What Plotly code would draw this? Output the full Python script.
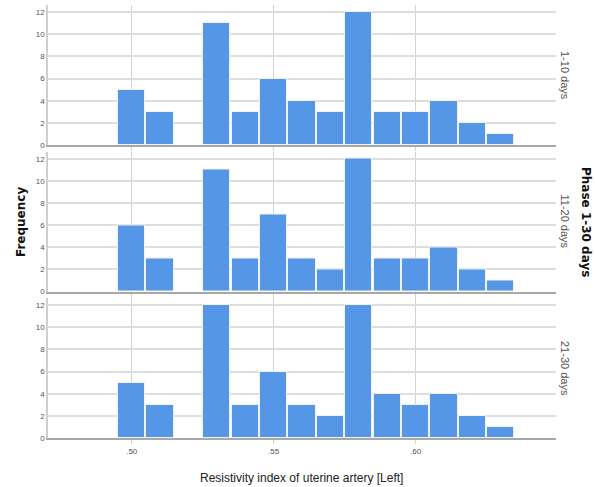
import plotly.graph_objects as go
from plotly.subplots import make_subplots

# Bin centres of the resistivity index histogram (bin width 0.01)
bin_centers = [0.50, 0.51, 0.53, 0.54, 0.55, 0.56, 0.57, 0.58, 0.59, 0.60, 0.61, 0.62, 0.63]

# Frequencies per period
freq_1_10 = [5, 3, 11, 3, 6, 4, 3, 12, 3, 3, 4, 2, 1]
freq_11_20 = [6, 3, 11, 3, 7, 3, 2, 12, 3, 3, 4, 2, 1]
freq_21_30 = [5, 3, 12, 3, 6, 3, 2, 12, 4, 3, 4, 2, 1]

panel_labels = ["1-10 days", "11-20 days", "21-30 days"]
series = [freq_1_10, freq_11_20, freq_21_30]

x_ticks = [0.50, 0.55, 0.60]
x_tick_text = [".50", ".55", ".60"]
y_ticks = [0, 2, 4, 6, 8, 10, 12]

BAR_COLOR = "#5597E6"
FONT = "Liberation Sans, Arial, sans-serif"
BOLD_FONT = "DejaVu Sans, Liberation Sans, sans-serif"

W, H = 595, 487
M_T, M_B, M_L, M_R = 5, 49, 48, 39
plot_h = H - M_T - M_B
panel_px = 140
gap_px = (plot_h - 3 * panel_px) / 2

fig = make_subplots(rows=3, cols=1, shared_xaxes=False, vertical_spacing=0.02)

for i, vals in enumerate(series):
    fig.add_trace(
        go.Bar(
            x=bin_centers,
            y=vals,
            width=0.0096,
            marker=dict(color=BAR_COLOR, line=dict(color="#EEF3FA", width=1)),
            showlegend=False,
            hoverinfo="x+y",
        ),
        row=i + 1,
        col=1,
    )

# Panel domains, top to bottom
for i in range(3):
    top = plot_h - i * (panel_px + gap_px)
    bottom = top - panel_px
    yname = "yaxis" if i == 0 else f"yaxis{i + 1}"
    xname = "xaxis" if i == 0 else f"xaxis{i + 1}"
    fig.layout[yname].update(
        domain=[bottom / plot_h, top / plot_h],
        range=[0, 12.65],
        tickvals=y_ticks,
        tickfont=dict(family=FONT, size=8, color="#555555"),
        showgrid=True,
        gridcolor="#DEDEDE",
        gridwidth=2,
        showline=True,
        linecolor="#CFCFCF",
        linewidth=1.5,
        zeroline=False,
        ticks="",
        ticklen=0,
    )
    fig.layout[xname].update(
        range=[0.4705, 0.6495],
        tickvals=x_ticks,
        ticktext=x_tick_text if i == 2 else ["", "", ""],
        tickfont=dict(family=FONT, size=8, color="#555555"),
        showgrid=True,
        gridcolor="#D2D2D2",
        gridwidth=1,
        showline=True,
        linecolor="#A8A8A8",
        linewidth=2,
        ticks="outside",
        ticklen=4,
        tickcolor="#D2D2D2",
        zeroline=False,
    )
    # Period label on the right side of each panel
    fig.add_annotation(
        x=1.0,
        y=(bottom + top) / 2 / plot_h,
        xref="paper",
        yref="paper",
        xanchor="left",
        yanchor="middle",
        xshift=1,
        text=panel_labels[i],
        textangle=90,
        showarrow=False,
        font=dict(family=FONT, size=11, color="#555555"),
    )

fig.add_annotation(
    x=586,
    y=H - 222,
    xref="paper",
    yref="paper",
    xanchor="center",
    yanchor="middle",
    text="<b>Phase 1-30 days</b>",
    textangle=90,
    showarrow=False,
    font=dict(family=BOLD_FONT, size=12, color="#111111"),
)

fig.add_annotation(
    x=21,
    y=H - 222,
    xref="paper",
    yref="paper",
    xanchor="center",
    yanchor="middle",
    text="<b>Frequency</b>",
    textangle=-90,
    showarrow=False,
    font=dict(family=BOLD_FONT, size=12, color="#111111"),
)

fig.add_annotation(
    x=301,
    y=H - 478,
    xref="paper",
    yref="paper",
    xanchor="center",
    yanchor="middle",
    text="Resistivity index of uterine artery [Left]",
    showarrow=False,
    font=dict(family=FONT, size=12, color="#222222"),
)

# Convert the pixel-positioned annotations into paper coordinates
plot_w = W - M_L - M_R
for ann in fig.layout.annotations[3:]:
    ann.x = (ann.x - M_L) / plot_w
    ann.y = (ann.y - M_B) / plot_h

fig.update_layout(
    width=W,
    height=H,
    margin=dict(l=M_L, r=M_R, t=M_T, b=M_B),
    paper_bgcolor="white",
    plot_bgcolor="white",
    bargap=0,
    font=dict(family=FONT),
)

fig.write_html("out.html")
